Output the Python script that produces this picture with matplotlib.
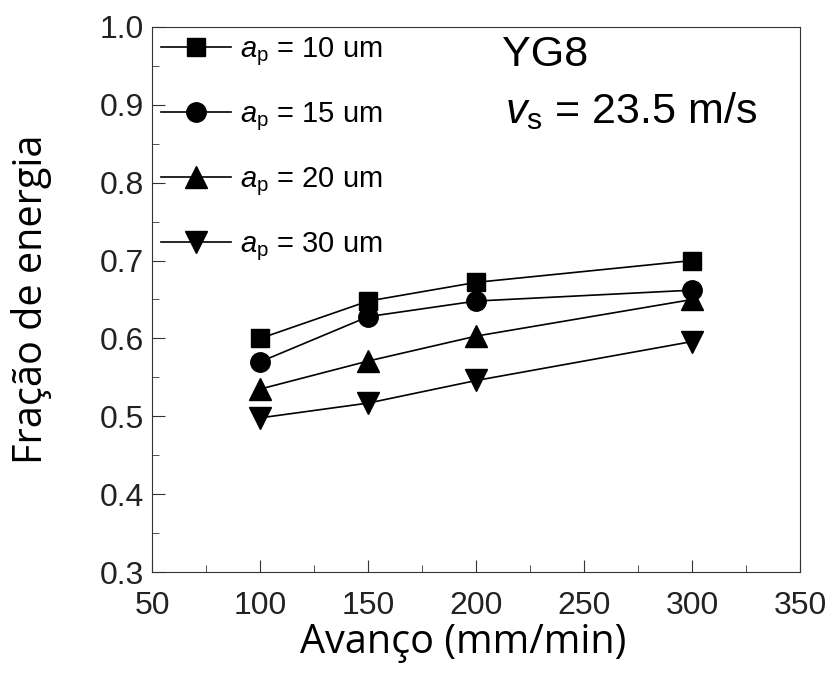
import matplotlib
matplotlib.use('Agg')
import matplotlib.pyplot as plt
from matplotlib.ticker import MultipleLocator

plt.rcParams['font.family'] = 'Liberation Sans'
plt.rcParams['mathtext.fontset'] = 'custom'
plt.rcParams['mathtext.rm'] = 'Liberation Sans'
plt.rcParams['mathtext.it'] = 'Liberation Sans:italic'

# data
avanco = [100, 150, 200, 300]
ap_10 = [0.600, 0.648, 0.672, 0.700]
ap_15 = [0.570, 0.628, 0.648, 0.662]
ap_20 = [0.535, 0.571, 0.603, 0.650]
ap_30 = [0.498, 0.517, 0.546, 0.596]
labels = ['10', '15', '20', '30']
markers = ['s', 'o', '^', 'v']
msizes = [13, 14, 16, 16]

fig = plt.figure(figsize=(8.37, 6.73), dpi=100)
ax = fig.add_axes([0.182, 0.150, 0.774, 0.810])

for y, lab, m, ms in zip([ap_10, ap_15, ap_20, ap_30], labels, markers, msizes):
    ax.plot(avanco, y, color='black', lw=1.2, marker=m, markersize=ms,
            label=r'$\mathit{a}_{\mathrm{p}}$ = ' + lab + ' um')

ax.set_xlim(50, 350)
ax.set_ylim(0.3, 1.0)
ax.xaxis.set_major_locator(MultipleLocator(50))
ax.xaxis.set_minor_locator(MultipleLocator(25))
ax.set_yticks([0.3, 0.4, 0.5, 0.6, 0.7, 0.8, 0.9, 1.0])
ax.set_yticklabels(['0.3', '0.4', '0.5', '0.6', '0.7', '0.8', '0.9', '1.0'])
ax.yaxis.set_minor_locator(MultipleLocator(0.05))
ax.tick_params(which='both', direction='in', labelsize=23, color='#333333',
               labelcolor='#222222')
ax.tick_params(which='major', length=9)
ax.tick_params(which='minor', length=5)
ax.tick_params(axis='x', pad=14)
ax.tick_params(axis='y', pad=6)
for s in ax.spines.values():
    s.set_color('#333333')

ax.set_xlabel('Avanço (mm/min)', fontsize=28.5, family='Open Sans')
ax.set_ylabel('Fração de energia', fontsize=28.5, family='Open Sans')
ax.xaxis.set_label_coords(0.48, -0.093)
ax.yaxis.set_label_coords(-0.155, 0.5)

leg = ax.legend(loc='upper left', frameon=False, fontsize=21, handlelength=2.4,
                handletextpad=0.3, labelspacing=1.1, borderaxespad=0.1,
                borderpad=0.2)

ax.text(0.54, 0.949, 'YG8', transform=ax.transAxes, fontsize=31, ha='left', va='center')
ax.text(0.545, 0.846, r'$\mathit{v}_{\mathrm{s}}$ = 23.5 m/s', transform=ax.transAxes,
        fontsize=31, ha='left', va='center')

fig.savefig('out.png', dpi=100)
